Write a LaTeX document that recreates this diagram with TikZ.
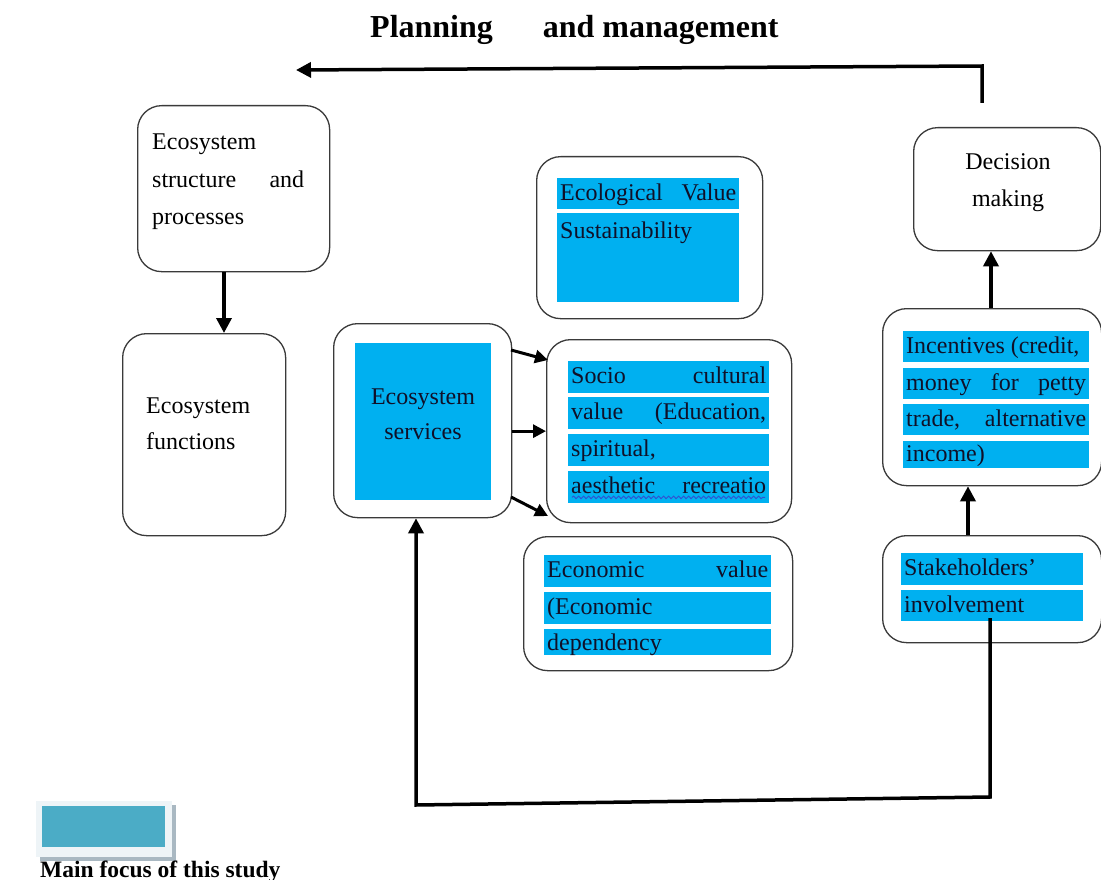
\documentclass[tikz,border=0pt]{standalone}
\usepackage{fontspec}
\setmainfont{Liberation Serif}
\usetikzlibrary{arrows.meta,decorations.pathmorphing}
\definecolor{stripblue}{HTML}{00B0F0}
\definecolor{legblue}{HTML}{4BACC6}
\definecolor{legframe}{HTML}{EEF4F7}
\definecolor{legshadow}{HTML}{A9B8C2}
\definecolor{boxline}{HTML}{3A3A3A}
\definecolor{striptext}{HTML}{101028}
\definecolor{wavy}{HTML}{3050D0}
\newcommand{\jline}[2]{\makebox[#1][s]{#2}}
\newcommand{\lline}[2]{\makebox[#1][l]{#2}}
\newcommand{\bodyfont}{\fontsize{24}{30}\selectfont}
\begin{document}
\begin{tikzpicture}[x=1pt,y=-1pt,
  rbox/.style={draw=boxline, line width=1.3pt, rounded corners=24pt, fill=white, anchor=north west, inner sep=0pt},
  strip/.style={fill=stripblue, anchor=north west, inner xsep=3pt, inner ysep=0pt,
     text height=18pt, text depth=5pt, font=\bodyfont, text=striptext},
  txt/.style={anchor=base west, inner sep=0pt, font=\bodyfont},
  arr/.style={line width=3.5pt, line join=miter, -{Triangle[length=15pt,width=15pt]}},
  sarr/.style={line width=3pt, -{Triangle[length=13pt,width=13pt]}}]
\path[use as bounding box] (0,0) rectangle (1101,880);

% title
\node[anchor=base west, inner sep=0pt, font=\bfseries\fontsize{32}{38}\selectfont] (title) at (370,38) {Planning\hspace{50pt}and management};

% left column
\node[rbox, minimum width=192pt, minimum height=166pt] (esp) at (137,105) {};
\node[txt] (espt) at (152,150) {\parbox[t]{152pt}{\baselineskip=37pt Ecosystem\\\jline{152pt}{structure and}\\processes}};
\node[rbox, minimum width=163pt, minimum height=202pt] (efn) at (122,333) {};
\node[txt] (efnt) at (146,413) {\parbox[t]{130pt}{\baselineskip=36pt Ecosystem\\functions}};

% ecosystem services
\node[rbox, minimum width=178pt, minimum height=194pt] (esv) at (333,323) {};
\node[fill=stripblue, anchor=north west, inner sep=0pt, minimum width=136pt, minimum height=157pt] (esvb) at (355,343) {};
\node[anchor=base, inner sep=0pt, font=\bodyfont, text=striptext] (esvt) at (423,404) {\parbox[t]{130pt}{\centering\baselineskip=35pt Ecosystem\\services}};

% ecological value
\node[rbox, minimum width=226pt, minimum height=162pt] (eco) at (536,156) {};
\node[strip, minimum width=182pt, minimum height=31pt] (eco1) at (557,178) {\jline{176pt}{Ecological Value}};
\node[fill=stripblue, anchor=north west, inner sep=0pt, minimum width=182pt, minimum height=89pt] (eco2) at (557,213) {};
\node[txt, text=striptext] (eco2t) at (560,238) {Sustainability};

% socio cultural value
\node[rbox, minimum width=245pt, minimum height=183pt] (soc) at (546,339) {};
\node[strip, minimum width=201pt, minimum height=32pt] (soc1) at (568,361) {\jline{195pt}{Socio cultural}};
\node[strip, minimum width=201pt, minimum height=32pt] (soc2) at (568,397) {\jline{195pt}{value (Education,}};
\node[strip, minimum width=201pt, minimum height=32pt] (soc3) at (568,434) {\lline{195pt}{spiritual,}};
\node[strip, minimum width=201pt, minimum height=32pt] (soc4) at (568,471) {\jline{195pt}{aesthetic recreatio}};
\draw[wavy, line width=0.9pt, decorate, decoration={snake, amplitude=1.3pt, segment length=5pt}] (soc4.south west) ++(4,-6) -- ++(193,0);

% economic value
\node[rbox, minimum width=269pt, minimum height=134pt] (ecn) at (523,536) {};
\node[strip, minimum width=227pt, minimum height=32pt] (ecn1) at (544,555) {\jline{221pt}{Economic value}};
\node[strip, minimum width=227pt, minimum height=32pt] (ecn2) at (544,592) {\lline{221pt}{(Economic}};
\begin{scope}
\clip (544,629) rectangle (771,655);
\node[strip, minimum width=227pt, minimum height=26pt, text depth=2pt] (ecn3) at (544,629) {\lline{221pt}{dependency}};
\end{scope}

% right column
\node[rbox, minimum width=187pt, minimum height=123pt] (dec) at (913,127) {};
\node[anchor=base, inner sep=0pt, font=\bodyfont] (dect) at (1008,170) {\parbox[t]{150pt}{\centering\baselineskip=37pt Decision\\making}};

\node[rbox, minimum width=219pt, minimum height=177pt] (inc) at (882,308) {};
\node[strip, minimum width=186pt, minimum height=31pt] (inc1) at (903,331) {\lline{180pt}{Incentives (credit,}};
\node[strip, minimum width=186pt, minimum height=31pt] (inc2) at (903,368) {\jline{180pt}{money for petty}};
\node[strip, minimum width=186pt, minimum height=31pt] (inc3) at (903,404) {\jline{180pt}{trade, alternative}};
\node[strip, minimum width=186pt, minimum height=27pt] (inc4) at (903,441) {\lline{180pt}{income)}};

\node[rbox, minimum width=219pt, minimum height=107pt] (stk) at (882,535) {};
\node[strip, minimum width=182pt, minimum height=32pt] (stk1) at (901,553) {\lline{176pt}{Stakeholders’}};
\node[strip, minimum width=182pt, minimum height=31pt] (stk2) at (901,590) {\lline{176pt}{involvement}};

% connectors
\coordinate (v1) at (224,0);
\draw[arr] (esp.south -| v1) -- (efn.north -| v1);

\coordinate (s1a) at (511,350);
\coordinate (s1b) at (548,360);
\coordinate (s3a) at (511,497);
\coordinate (s3b) at (548,516);
\draw[sarr] (s1a) -- (s1b);
\draw[sarr] (esv.east |- soc.west) -- (soc.west);
\draw[sarr] (s3a) -- (s3b);

\coordinate (v2) at (991,0);
\draw[arr] (inc.north -| v2) -- (dec.south -| v2);
\coordinate (v3) at (968,0);
\draw[arr] (stk.north -| v3) -- (inc.south -| v3);

\coordinate (fb0) at (990,618);
\coordinate (fb1) at (990,797);
\coordinate (fb2) at (416,805);
\draw[arr] (fb0) -- (fb1) -- (fb2) -- (esv.south -| fb2);

\coordinate (tp0) at (982,103);
\coordinate (tp1) at (982,66);
\coordinate (tp2) at (296,70);
\draw[arr] (tp0) -- (tp1) -- (tp2);

% legend
\node[fill=legshadow, anchor=north west, inner sep=0pt, minimum width=136pt, minimum height=56pt] (legs) at (40,805) {};
\node[fill=legframe, anchor=north west, inner sep=0pt, minimum width=136pt, minimum height=56pt] (legf) at (36,801) {};
\node[fill=legblue, anchor=north west, inner sep=0pt, minimum width=123pt, minimum height=41pt] (legb) at (42,806) {};
\node[anchor=base west, inner sep=0pt, font=\bfseries\fontsize{23.5}{28}\selectfont] (legt) at (40,877) {Main focus of this study};
\end{tikzpicture}
\end{document}
